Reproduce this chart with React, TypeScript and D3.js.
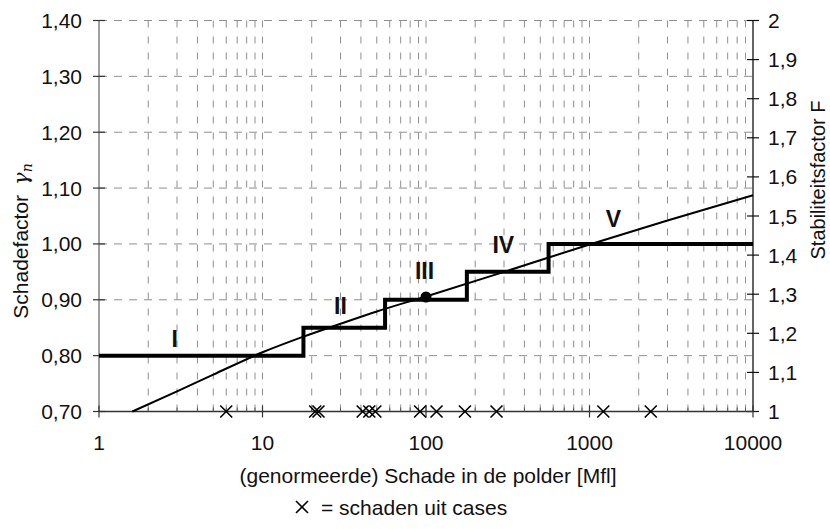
import React from "react";
import * as d3 from "d3";

const W = 830;
const H = 529;

// Damage classes: class boundaries (Mfl) and the damage factor of each class
const classBounds = [1, 17.8, 56.2, 177.8, 562, 10000];
const classFactor = [0.8, 0.85, 0.9, 0.95, 1.0];
const classNames = ["I", "II", "III", "IV", "V"];
const classNameDamage = [2.9, 30, 98, 297, 1400];
const classNameFactor = [0.83, 0.89, 0.952, 0.998, 1.045];

// Continuous relation between normalised damage and damage factor
const curveDamage = [1.6, 3, 5, 10, 17.8, 30, 50, 100, 300, 1000, 3000, 10000];
const curveFactor = [0.7, 0.736, 0.766, 0.806, 0.834, 0.857, 0.879, 0.906, 0.95, 0.999, 1.042, 1.087];

// Reference point on the curve
const refDamage = [100];
const refFactor = [0.905];

// Damages found in the cases
const caseDamage = [6.0, 21, 22, 41, 45, 49, 92, 116, 173, 270, 1215, 2370];

// Axis ticks
const leftTicks = [0.7, 0.8, 0.9, 1.0, 1.1, 1.2, 1.3, 1.4];
const rightTicks = [1, 1.1, 1.2, 1.3, 1.4, 1.5, 1.6, 1.7, 1.8, 1.9, 2];
const xMajor = [1, 10, 100, 1000, 10000];

const FONT = "'Liberation Sans', Arial, sans-serif";

export default function App() {
  const left = 99;
  const right = 753;
  const top = 20.5;
  const bottom = 411.5;

  const x = d3.scaleLog().domain([1, 10000]).range([left, right]);
  const y = d3.scaleLinear().domain([0.7, 1.4]).range([bottom, top]);
  const yF = d3.scaleLinear().domain([1, 2]).range([bottom, top]);

  const minor: number[] = [];
  for (let k = 0; k < 4; k++) {
    for (let m = 2; m <= 10; m++) {
      const v = m * Math.pow(10, k);
      if (v < 10000) minor.push(v);
    }
  }

  const commaFmt2 = (v: number) => d3.format(".2f")(v).replace(".", ",");
  const commaFmtF = (v: number) =>
    Math.abs(v - Math.round(v)) < 1e-9 ? String(Math.round(v)) : d3.format(".1f")(v).replace(".", ",");

  const stepPts: [number, number][] = classFactor.map((f, i) => [classBounds[i], f]);
  stepPts.push([classBounds[classBounds.length - 1], classFactor[classFactor.length - 1]]);
  const stepPath = d3
    .line<[number, number]>()
    .x((d) => x(d[0]))
    .y((d) => y(d[1]))
    .curve(d3.curveStepAfter)(stepPts) as string;

  const curvePts: [number, number][] = curveDamage.map((d, i) => [d, curveFactor[i]]);
  const curvePath = d3
    .line<[number, number]>()
    .x((d) => x(d[0]))
    .y((d) => y(d[1]))
    .curve(d3.curveMonotoneX)(curvePts) as string;

  const cross = "M-6,-6L6,6M-6,6L6,-6";

  return (
    <svg
      width={W}
      height={H}
      viewBox={`0 0 ${W} ${H}`}
      style={{ position: "absolute", left: 0, top: 0, background: "#fff" }}
      fontFamily={FONT}
    >
      <rect x={0} y={0} width={W} height={H} fill="#fff" />

      {/* vertical grid */}
      <g stroke="#8f8f8f" strokeWidth={1} strokeDasharray="7,9">
        {minor.map((v) => (
          <line key={"vg" + v} x1={x(v)} x2={x(v)} y1={bottom} y2={top} />
        ))}
      </g>
      {/* horizontal grid */}
      <g stroke="#8f8f8f" strokeWidth={1} strokeDasharray="8,7">
        {leftTicks.slice(1).map((v) => (
          <line key={"hg" + v} x1={left} x2={right} y1={y(v)} y2={y(v)} />
        ))}
      </g>

      {/* left axis */}
      <line x1={left} x2={left} y1={top} y2={bottom} stroke="#6e6e6e" strokeWidth={1.3} />
      {leftTicks.map((v) => (
        <g key={"lt" + v}>
          <line x1={left - 6} x2={left + 6} y1={y(v)} y2={y(v)} stroke="#333" strokeWidth={1.2} />
          <text x={82} y={y(v)} dy="0.36em" textAnchor="end" fontSize={21} fill="#111">
            {commaFmt2(v)}
          </text>
        </g>
      ))}

      {/* right axis */}
      <line x1={right} x2={right} y1={top} y2={bottom} stroke="#111" strokeWidth={1.3} />
      {rightTicks.map((v) => (
        <g key={"rt" + v}>
          <line x1={right - 6} x2={right + 6} y1={yF(v)} y2={yF(v)} stroke="#111" strokeWidth={1.2} />
          <text x={768} y={yF(v)} dy="0.36em" textAnchor="start" fontSize={21} fill="#111">
            {commaFmtF(v)}
          </text>
        </g>
      ))}

      {/* bottom axis */}
      <line x1={left} x2={right} y1={bottom} y2={bottom} stroke="#333" strokeWidth={1.3} />
      {minor
        .filter((v) => !xMajor.includes(v))
        .map((v) => (
          <line key={"mt" + v} x1={x(v)} x2={x(v)} y1={bottom} y2={bottom - 4} stroke="#555" strokeWidth={1} />
        ))}
      {xMajor.map((v) => (
        <g key={"xt" + v}>
          <line x1={x(v)} x2={x(v)} y1={bottom - 6} y2={bottom + 6} stroke="#333" strokeWidth={1.2} />
          <text x={x(v)} y={442} dy="0.36em" textAnchor="middle" fontSize={21} fill="#111">
            {String(v)}
          </text>
        </g>
      ))}

      {/* continuous relation */}
      <path d={curvePath} fill="none" stroke="#000" strokeWidth={2} />

      {/* class steps */}
      <path d={stepPath} fill="none" stroke="#000" strokeWidth={4} strokeLinejoin="miter" />

      {/* reference point */}
      {refDamage.map((d, i) => (
        <circle key={"rp" + i} cx={x(d)} cy={y(refFactor[i])} r={5.5} fill="#000" />
      ))}

      {/* class names */}
      {classNames.map((n, i) => (
        <text
          key={"cn" + n}
          x={x(classNameDamage[i])}
          y={y(classNameFactor[i])}
          dy="0.36em"
          textAnchor="middle"
          fontSize={23}
          fontWeight="bold"
          fill="#111"
        >
          {n}
        </text>
      ))}

      {/* case damages */}
      {caseDamage.map((d, i) => (
        <path
          key={"cs" + i}
          d={cross}
          transform={`translate(${x(d)},${y(0.7)})`}
          fill="none"
          stroke="#000"
          strokeWidth={1.6}
        />
      ))}

      {/* axis titles */}
      <text x={(left + right) / 2 + 2} y={475.5} dy="0.36em" textAnchor="middle" fontSize={21} fill="#111">
        (genormeerde) Schade in de polder [Mfl]
      </text>
      <text transform="translate(20,241) rotate(-90)" dy="0.36em" textAnchor="middle" fontSize={21} fill="#111">
        Schadefactor
        <tspan dx={10} fontFamily="'DejaVu Serif', serif" fontStyle="italic">γ</tspan>
        <tspan fontSize={14} dy={4} fontFamily="'DejaVu Serif', serif" fontStyle="italic">n</tspan>
      </text>
      <text transform="translate(818,180) rotate(-90)" dy="0.36em" textAnchor="middle" fontSize={20} fill="#111">
        Stabiliteitsfactor F
      </text>

      {/* legend */}
      <path d={cross} transform="translate(302,507)" fill="none" stroke="#000" strokeWidth={1.6} />
      <text x={321} y={507} dy="0.36em" textAnchor="start" fontSize={21} fill="#111">
        = schaden uit cases
      </text>
    </svg>
  );
}
